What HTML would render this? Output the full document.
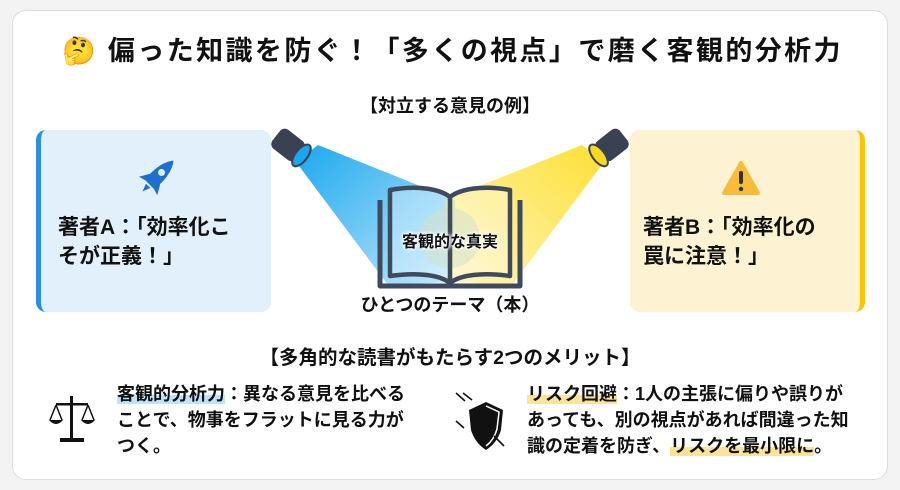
<!DOCTYPE html>
<html><head><meta charset="utf-8"><style>
*{margin:0;padding:0;box-sizing:border-box}
body{width:900px;height:490px;background:#f3f3f4;font-family:"Liberation Sans","Noto Sans CJK JP",sans-serif;position:relative;overflow:hidden;color:#111}
.card{position:absolute;left:12px;top:10px;width:876px;height:470px;background:#fff;border:1px solid #ddd;border-radius:14px}
.a{position:absolute;white-space:nowrap;font-weight:700}
.box{position:absolute;top:130px;width:235px;height:182px;border-radius:10px}
.hl1{background:linear-gradient(transparent 55%,#bfe3fb 55%)}
.hl2{background:linear-gradient(transparent 55%,#fbe49a 55%)}
</style></head><body>
<div class="card"></div>
<div class="a" style="left:62px;top:29px;font-size:27px;letter-spacing:2.4px">🤔 偏った知識を防ぐ！「多くの視点」で磨く客観的分析力</div>
<div class="a" style="left:0;width:900px;text-align:center;top:92px;font-size:18px">【対立する意見の例】</div>

<div class="box" style="left:36px;background:#e2f0fb;border-left:5px solid #2a8fe0"></div>
<div class="box" style="left:630px;background:#fdf3d2;border-right:5px solid #f7c600"></div>

<svg style="position:absolute;left:0;top:0" width="900" height="490">
<defs>
<linearGradient id="gb" x1="0" y1="0" x2="1" y2="1"><stop offset="0" stop-color="#1aa8ee"/><stop offset="1" stop-color="#1aa8ee" stop-opacity=".25"/></linearGradient>
<linearGradient id="gy" x1="1" y1="0" x2="0" y2="1"><stop offset="0" stop-color="#fde034"/><stop offset="1" stop-color="#fde034" stop-opacity=".3"/></linearGradient>
</defs>
<g transform="translate(158,176) rotate(45)" fill="#1f6fd0">
<path d="M0,-22 C8,-12 8,4 6,12 L-6,12 C-8,4 -8,-12 0,-22Z"/>
<path d="M-6,2 L-13,14 L-6,12Z M6,2 L13,14 L6,12Z"/>
<circle cx="0" cy="-5" r="3.5" fill="#e2f0fb"/>
<path d="M-3,14 L0,22 L3,14Z"/>
</g>
<path d="M741,163 L758,193 L724,193Z" fill="#f5bd3a" stroke="#f5bd3a" stroke-width="4" stroke-linejoin="round"/>
<rect x="739" y="171" width="4" height="13" rx="2" fill="#333"/><circle cx="741" cy="189" r="2.2" fill="#333"/>
<path d="M296,162 L318,145 L455,200 L452,282 L388,285Z" fill="url(#gb)"/>
<path d="M604,162 L582,145 L445,200 L448,282 L512,285Z" fill="url(#gy)"/>
<g transform="translate(292,148) rotate(38)"><rect x="-20" y="-12" width="30" height="24" rx="6" fill="#3a4152"/><ellipse cx="12" cy="0" rx="6" ry="13" fill="#19a6ea" stroke="#3a4152" stroke-width="2"/></g>
<g transform="translate(608,148) rotate(-38)"><rect x="-10" y="-12" width="30" height="24" rx="6" fill="#3a4152"/><ellipse cx="-12" cy="0" rx="6" ry="13" fill="#f7d91e" stroke="#3a4152" stroke-width="2"/></g>
<circle cx="450" cy="238" r="30" fill="#bfd6b0" opacity=".55"/>
<g fill="none" stroke="#3f4a5e" stroke-width="4.5" stroke-linejoin="round">
<path d="M380,200 L380,286 L520,286 L520,200" stroke-width="5"/>
<path d="M390,190 C418,185 440,189 450,197 C460,189 482,185 510,190 L510,276 C482,272 460,275 450,283 C440,275 418,272 390,276Z" fill="rgba(255,255,255,.3)"/>
<path d="M450,197 L450,283"/>
</g>
<g fill="#111" stroke="#111">
<rect x="70" y="396" width="3" height="43" stroke="none"/>
<rect x="56" y="403" width="32" height="2.5" stroke="none"/>
<rect x="60" y="438" width="24" height="4" stroke="none"/>
<path d="M56,405 L50,420 M56,405 L62,420 M88,405 L82,420 M88,405 L94,420" fill="none" stroke-width="1.5"/>
<path d="M49,420 L63,420 Q56,428 49,420Z M81,420 L95,420 Q88,428 81,420Z" stroke="none"/>
</g>
<path d="M486,402 L503,410 L501,430 Q497,443 486,450 Q475,443 471,430 L469,410Z" fill="#111"/>
<path d="M486,406 L499,412 L497,429 Q494,440 486,446" fill="none" stroke="#fff" stroke-width="1.5"/>
<g stroke="#111" stroke-width="1.6" fill="none">
<path d="M456,393 L465,401 M463,393 L472,400 M456,421 L464,428 M494,436 L504,446"/>
</g>
</svg>

<div class="a" style="left:58px;top:213px;font-size:21px;line-height:29px">著者A：「効率化こ<br>そが正義！」</div>
<div class="a" style="left:643px;top:213px;font-size:21px;line-height:29px">著者B：「効率化の<br>罠に注意！」</div>
<div class="a" style="left:0;width:900px;text-align:center;top:228px;font-size:16px;text-shadow:0 0 4px #fff,0 0 4px #fff,0 0 3px #fff">客観的な真実</div>
<div class="a" style="left:0;width:900px;text-align:center;top:291px;font-size:18px">ひとつのテーマ（本）</div>
<div class="a" style="left:0;width:900px;text-align:center;top:341px;font-size:19.5px">【多角的な読書がもたらす2つのメリット】</div>
<div class="a" style="left:117px;top:381px;font-size:18px;line-height:26px">
<span class="hl1">客観的分析力</span>：異なる意見を比べる<br>ことで、物事をフラットに見る力が<br>つく。</div>
<div class="a" style="left:527px;top:381px;font-size:18px;line-height:26px">
<span class="hl2">リスク回避</span>：1人の主張に偏りや誤りが<br>あっても、別の視点があれば間違った知<br>識の定着を防ぎ、<span class="hl2">リスクを最小限に</span>。</div>
</body></html>
